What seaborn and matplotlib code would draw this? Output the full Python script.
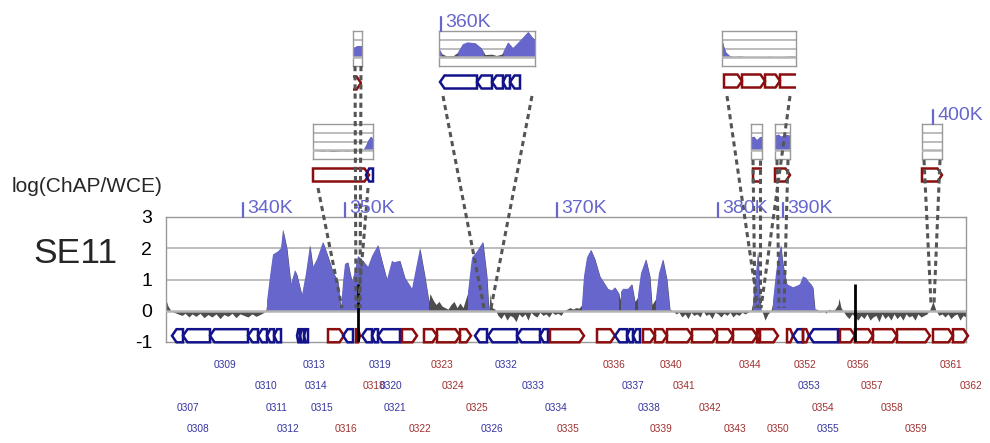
import matplotlib
matplotlib.use("Agg")
import matplotlib.pyplot as plt
from matplotlib.patches import Polygon
import numpy as np
import pandas as pd
import seaborn as sns

W, H = 990, 443

# ---- main track signal: position (track units) and log(ChAP/WCE)
sig_pos = [166, 168, 171, 174, 178, 182, 185, 189, 192, 196, 200, 204, 208, 212, 216, 220, 224, 228,
           232, 236, 240, 244, 248, 252, 256, 260, 264, 266, 267, 270, 273, 278, 281, 283, 287, 291,
           295, 297, 302, 306, 310, 313, 317, 323, 328, 333, 338, 341, 343, 345, 348, 352, 354, 358,
           363, 368, 372, 378, 382, 387, 392, 394, 400, 405, 412, 420, 425, 429, 430, 433, 436, 439,
           442, 445, 448, 451, 454, 457, 460, 463, 466, 468, 472, 477, 483, 487, 489, 490, 492, 495,
           498, 501, 504, 507, 510, 513, 516, 519, 522, 525, 528, 531, 534, 537, 540, 543, 546, 549,
           552, 555, 558, 561, 564, 567, 570, 573, 576, 579, 582, 584, 587, 591, 595, 600, 603, 608,
           612, 615, 619, 620, 621, 623, 628, 632, 635, 637, 638, 641, 646, 650, 652, 654, 656, 659,
           663, 667, 670, 673, 676, 679, 682, 685, 688, 691, 694, 697, 700, 703, 706, 709, 712, 715,
           718, 721, 724, 727, 730, 733, 736, 739, 742, 745, 748, 751, 753, 756, 758, 760, 761, 763,
           765, 768, 771, 773, 776, 778, 781, 783, 787, 790, 793, 797, 800, 803, 806, 808, 811, 813,
           815, 817, 820, 823, 826, 829, 832, 835, 838, 839, 841, 843, 846, 849, 852, 855, 858, 861,
           864, 867, 870, 873, 876, 879, 882, 885, 888, 891, 894, 897, 900, 903, 906, 909, 912, 915,
           918, 921, 924, 927, 930, 933, 936, 939, 942, 945, 948, 951, 954, 957, 960, 963, 966]
sig_val = [0.35, 0.15, 0.0, -0.05, -0.1, -0.15, -0.08, -0.2, -0.1, -0.18, -0.08, -0.22, -0.12, -0.2,
           -0.1, -0.25, -0.12, -0.18, -0.08, -0.22, -0.1, -0.15, -0.2, -0.1, -0.18, -0.12, -0.05, 0.05,
           0.3, 1.1, 1.8, 1.9, 2.0, 2.6, 2.0, 0.85, 1.3, 1.15, 0.5, 1.2, 2.1, 1.4, 1.65, 2.2, 1.75,
           1.25, 0.95, 0.05, 0.9, 1.5, 1.55, 0.95, 1.15, 1.75, 1.6, 1.4, 1.75, 2.1, 1.6, 1.0, 1.6,
           1.55, 1.6, 1.05, 0.7, 2.0, 1.1, 0.3, 0.55, 0.35, 0.2, 0.3, 0.15, 0.1, 0.05, 0.2, 0.3, 0.1,
           0.25, 0.1, 0.4, 0.6, 1.7, 1.9, 2.2, 1.1, 0.0, 0.55, 0.1, 0.05, -0.15, -0.25, -0.1, -0.3,
           -0.15, -0.2, -0.35, -0.1, -0.2, -0.1, -0.3, -0.05, -0.15, -0.2, -0.05, -0.15, -0.1, -0.2,
           -0.05, -0.12, -0.08, -0.15, 0.0, 0.05, 0.1, 0.05, 0.1, 0.08, 0.2, 1.1, 1.7, 1.95, 1.65,
           1.1, 0.95, 0.7, 0.65, 0.75, 0.55, 0.35, 0.6, 0.7, 0.7, 0.85, 0.3, 0.4, 0.5, 1.2, 1.65, 1.1,
           0.2, 0.3, 0.4, 1.2, 1.65, 1.0, 0.05, 0.0, -0.1, -0.05, -0.2, -0.1, -0.25, -0.05, -0.15,
           -0.1, -0.2, 0.0, -0.15, -0.1, -0.25, -0.05, -0.1, -0.2, -0.08, -0.15, -0.05, -0.2, -0.1,
           -0.15, -0.05, -0.1, -0.05, 0.0, 0.3, 1.2, 1.9, 0.5, 0.05, -0.1, -0.3, -0.1, 0.0, 0.3, 1.2,
           1.65, 2.1, 1.5, 0.85, 0.8, 0.75, 0.8, 0.85, 1.1, 1.05, 0.95, 0.85, 0.75, 0.05, 0.05, -0.05,
           0.02, -0.08, 0.05, 0.0, 0.05, 0.2, 0.4, 0.1, 0.0, -0.15, -0.25, -0.1, -0.2, -0.3, -0.15,
           -0.25, -0.1, -0.3, -0.2, -0.15, -0.35, -0.1, -0.25, -0.15, -0.3, -0.1, -0.25, -0.15, -0.3,
           -0.1, -0.2, -0.15, -0.3, -0.1, -0.2, -0.15, -0.1, 0.05, 0.3, 0.0, -0.15, -0.1, -0.2, -0.1,
           -0.25, -0.15, -0.1, -0.3, -0.15, -0.2]
enriched = [(267, 429), (468, 489), (582, 619), (621, 635), (638, 652), (656, 670), (753, 761), (773, 815)]
marker_pos = [358, 855]

# ---- genes in the main track (start, end, strand)
gene_start = [172, 183, 210, 248, 258, 267, 274, 297, 300, 304, 328, 343, 356, 362, 372, 378, 402, 424,
              437, 460, 475, 488, 517, 540, 550, 597, 615, 627, 633, 643, 655, 667, 692, 717, 733, 757,
              760, 787, 793, 803, 809, 840, 855, 873, 897, 933, 953]
gene_end = [183, 210, 248, 258, 267, 274, 281, 300, 304, 308, 344, 353, 360, 372, 378, 400, 417, 437,
            460, 471, 487, 517, 540, 548, 584, 615, 627, 633, 640, 655, 667, 692, 717, 733, 757, 760,
            778, 793, 803, 809, 838, 855, 873, 897, 930, 953, 968]
gene_strand = list("-------" "---" "+-+---+" "+++" "----" "++" "---" "++++++++" "+-+-" "++++++")

# ---- gene labels
label_names = ['0307', '0308', '0309', '0310', '0311', '0312', '0313', '0314', '0315', '0316', '0318',
               '0319', '0320', '0321', '0322', '0323', '0324', '0325', '0326', '0332', '0333', '0334',
               '0335', '0336', '0337', '0338', '0339', '0340', '0341', '0342', '0343', '0344', '0350',
               '0352', '0353', '0354', '0355', '0356', '0357', '0358', '0359', '0361', '0362']
label_pos = [188, 198, 225, 266, 277, 288, 314, 316, 322, 346, 374, 380, 391, 395, 420, 442, 453, 477,
             492, 506, 533, 556, 568, 614, 633, 649, 661, 671, 684, 710, 735, 750, 778, 805, 809, 823,
             828, 858, 872, 892, 916, 951, 971]
label_row = [3, 4, 1, 2, 3, 4, 1, 2, 3, 4, 2, 1, 2, 3, 4, 1, 2, 3, 4, 1, 2, 3, 4, 1, 2, 3, 4, 1, 2, 3,
             4, 1, 4, 1, 2, 3, 4, 1, 2, 3, 4, 1, 2]
label_strand = list("---------" "++" "---" "++++" "----" "++" "--" "++++++++" "-+-" "++++++")

coord_names = ['340K', '350K', '360K', '370K', '380K', '390K', '400K']
coord_pos = [243, 345, 441, 557, 718, 783, 933]

# ---- zoomed insets: relative position, signal, enriched parts, genes
ins1_pos = [0, .08, .16, .24, .32, .4, .48, .56, .64, .72, .8, .84, .88, .92, .96, 1.0]
ins1_val = [0.1, -0.05, -0.1, -0.05, -0.15, -0.1, -0.05, -0.1, -0.05, -0.1, 0.0, 0.1, 0.6, 1.2, 1.6, 1.3]
ins1_blue = [(0.84, 1.0)]
ins1_genes = [(313, 369, '+'), (366, 373, '-')]

insA_pos = [0, .2, .4, .6, .8, 1.0]
insA_val = [1.1, 1.2, 1.3, 1.35, 1.3, 1.4]
insA_blue = [(0, 1)]
insA_genes = [(340, 361, '+')]

insB_pos = [0, .03, .08, .15, .2, .25, .3, .38, .44, .47, .48, .55, .6, .65, .67, .72, .77, .82, .88,
            .93, .97, 1.0]
insB_val = [1.0, 0.4, 0.15, 0.2, 0.6, 1.5, 1.7, 1.6, 1.05, 0.5, 0.3, 0.35, 0.2, 0.35, 0.6, 1.7, 1.05,
            1.6, 2.3, 2.9, 2.3, 2.0]
insB_blue = [(0, 0.05), (0.18, 0.47), (0.66, 1.0)]
insB_genes = [(440, 477, '-'), (477, 492, '-'), (492, 503, '-'), (503, 510, '-'), (510, 520, '-')]

insC_pos = [0, .02, .05, .08, .1, .15, .25, .35, .45, .55, .65, .75, .85, .95, 1.0]
insC_val = [2.0, 1.3, 0.6, 0.35, 0.2, 0.1, 0.15, 0.05, 0.1, 0.05, 0.12, 0.05, 0.1, 0.15, 0.1]
insC_blue = [(0, 0.1)]
insC_genes = [(724, 742, '+'), (742, 765, '+'), (765, 780, '+'), (780, 802, '+')]

insD_pos = [0, .25, .5, .75, 1]
insD_val = [1.5, 1.6, 1.2, 1.5, 1.6]
insD_blue = [(0, 1)]
insD_genes = [(753, 775, '+')]

insE_pos = [0, .2, .4, .6, .8, 1]
insE_val = [1.7, 1.85, 1.6, 1.7, 1.8, 1.7]
insE_blue = [(0, 1)]
insE_genes = [(775, 790, '+')]

insF_pos = [0, .25, .5, .75, 1]
insF_val = [0.1, 0.05, 0.1, 0.05, 0.1]
insF_blue = []
insF_genes = [(922, 942, '+')]

BLUE = '#6666cc'
GRAY = '#4d4d4d'
GRID = '#aaaaaa'
GENE_COL = {'+': '#8b0d0d', '-': '#12128a'}
LABEL_COL = {'+': '#a03030', '-': '#3535a0'}

sns.set_theme(style="white")
plt.rcParams['font.family'] = ['Liberation Sans', 'DejaVu Sans']

fig = plt.figure(figsize=(W / 100, H / 100), dpi=100)


def px_axes(x0, y0, x1, y1, z=1):
    a = fig.add_axes([x0 / W, 1 - y1 / H, (x1 - x0) / W, (y1 - y0) / H], zorder=z)
    a.patch.set_alpha(0)
    return a


def in_ranges(p, ranges):
    return np.array([any(a <= v <= b for a, b in ranges) for v in p])


def draw_signal(ax, pos, val, blue):
    pos = np.asarray(pos, float)
    val = np.asarray(val, float)
    ax.fill_between(pos, 0, val, color=GRAY, lw=0, zorder=1)
    if blue:
        ax.fill_between(pos, 0, val, where=in_ranges(pos, blue), color=BLUE, lw=0, zorder=2)


def gene(ax, s, e, strand, yc, h, tipmax=4.5, lw=1.8, clip=False):
    tip = min(tipmax, (e - s) * 0.45)
    if strand == '+':
        pts = [(s, yc - h), (e - tip, yc - h), (e, yc), (e - tip, yc + h), (s, yc + h)]
    else:
        pts = [(e, yc - h), (s + tip, yc - h), (s, yc), (s + tip, yc + h), (e, yc + h)]
    ax.add_patch(Polygon(pts, closed=True, fill=False, ec=GENE_COL[strand], lw=lw,
                         joinstyle='miter', clip_on=clip, zorder=4))


def box_style(ax):
    ax.set_ylim(-1, 3)
    for sp in ax.spines.values():
        sp.set_color('#999999')
        sp.set_linewidth(1.0)
        sp.set_visible(True)
    for v in (1, 2):
        ax.axhline(v, color=GRID, lw=1.1, zorder=0.5)
    ax.axhline(0, color='#b5b5b5', lw=1.8, zorder=3)


# ---- main track
ax = px_axes(166, 217, 966, 342, z=2)
ax.set_xlim(166, 966)
box_style(ax)
draw_signal(ax, sig_pos, sig_val, enriched)
ax.vlines(marker_pos, -1, 0.85, color='black', lw=2, zorder=5)
for s, e, st in zip(gene_start, gene_end, gene_strand):
    gene(ax, s, e, st, -0.8, 0.21)
ax.set_xticks([])
ax.set_yticks([-1, 0, 1, 2, 3])
ax.set_yticklabels(['-1', '0', '1', '2', '3'], fontsize=14, color='black')
ax.tick_params(axis='y', length=0, pad=10)

# ---- insets: (data, signal box in px, gene row centre y, gene clip range)
insets = [
    (ins1_pos, ins1_val, ins1_blue, ins1_genes, (313, 124, 373, 159), 175, (311, 375)),
    (insA_pos, insA_val, insA_blue, insA_genes, (353, 31, 362, 66), 83, (353, 362)),
    (insB_pos, insB_val, insB_blue, insB_genes, (439, 31, 535, 66), 82, (437, 537)),
    (insC_pos, insC_val, insC_blue, insC_genes, (722, 31, 796, 66), 81, (722, 796)),
    (insD_pos, insD_val, insD_blue, insD_genes, (751, 124, 762, 159), 175, (751, 762)),
    (insE_pos, insE_val, insE_blue, insE_genes, (775, 124, 790, 159), 175, (773, 792)),
    (insF_pos, insF_val, insF_blue, insF_genes, (922, 124, 942, 159), 175, (920, 944)),
]
for pos, val, blue, genes, (x0, y0, x1, y1), gy, (c0, c1) in insets:
    ia = px_axes(x0, y0, x1, y1, z=3)
    ia.set_xlim(0, 1)
    box_style(ia)
    draw_signal(ia, pos, val, blue)
    ia.set_xticks([])
    ia.set_yticks([])
    ga = px_axes(c0, gy - 10, c1, gy + 10, z=3)
    ga.set_xlim(c0, c1)
    ga.set_ylim(gy + 10, gy - 10)
    ga.axis('off')
    for s, e, st in genes:
        gene(ga, s, e, st, gy, 6.5, clip=True)

# ---- overlay for text and connectors (pixel coordinates)
ov = px_axes(0, 0, W, H, z=6)
ov.set_xlim(0, W)
ov.set_ylim(H, 0)
ov.axis('off')

ov.text(12, 192, 'log(ChAP/WCE)', fontsize=15, ha='left', va='baseline')
ov.text(33, 263, 'SE11', fontsize=25.5, ha='left', va='baseline')

coord_top = {'360K': 31, '400K': 124}
for name, p in zip(coord_names, coord_pos):
    top = coord_top.get(name, 217)
    ov.plot([p, p], [top - 14, top], color=BLUE, lw=1.6)
    ov.text(p + 4, top - 4, name, color=BLUE, fontsize=14, ha='left', va='baseline')

row_y = {1: 365, 2: 386, 3: 408, 4: 429}
for name, p, r, st in zip(label_names, label_pos, label_row, label_strand):
    ov.text(p, row_y[r], name, color=LABEL_COL[st], fontsize=7.3, ha='center', va='center')

links = [
    (318, 188, 342, 308), (368, 188, 358, 308),
    (355, 66, 356, 308), (361, 66, 360, 308),
    (443, 96, 484, 308), (532, 96, 491, 308),
    (727, 96, 758, 308), (790, 96, 761, 308),
    (753, 160, 755, 308), (760, 160, 760, 308),
    (777, 160, 779, 308), (788, 160, 784, 308),
    (924, 160, 931, 304), (940, 160, 934, 304),
]
link_df = pd.DataFrame(
    [{'x': xa, 'y': ya, 'link': i} for i, (xa, ya, xb, yb) in enumerate(links)] +
    [{'x': xb, 'y': yb, 'link': i} for i, (xa, ya, xb, yb) in enumerate(links)]
)
sns.lineplot(data=link_df, x='x', y='y', units='link', estimator=None, sort=False, ax=ov,
             color='#555555', lw=2.2, linestyle=(0, (1.7, 1.3)), legend=False)
ov.set_xlim(0, W)
ov.set_ylim(H, 0)
ov.axis('off')

fig.savefig('out.png', dpi=100)
